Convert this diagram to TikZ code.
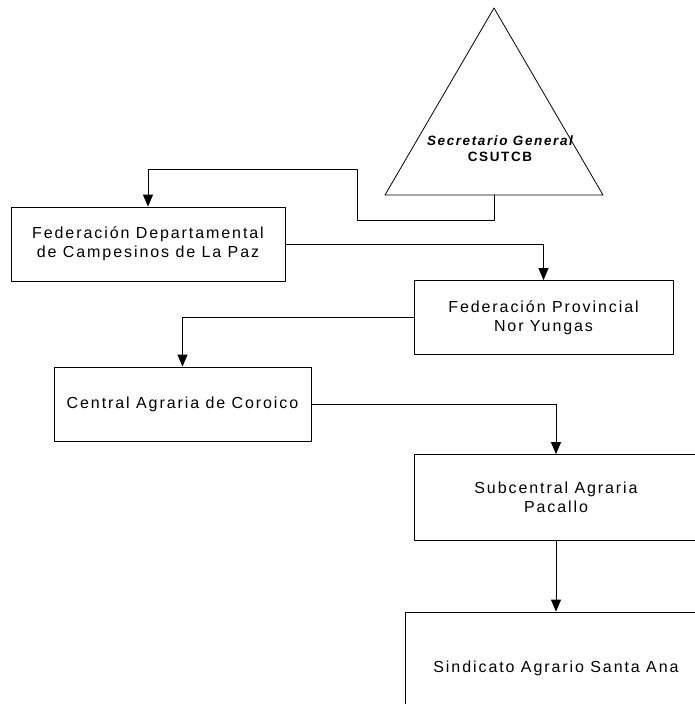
\documentclass[tikz,border=0pt]{standalone}
\usepackage{fontspec}
\setmainfont{Liberation Sans}[LetterSpace=12]
\usetikzlibrary{arrows.meta,positioning}

\begin{document}
\begin{tikzpicture}[line cap=round,line join=round,>={Triangle[length=12pt,width=10pt]},x=1pt,y=-1pt,
  box/.style={draw,line width=0.8pt,align=center,inner sep=0pt,font=\fontsize{16}{19}\selectfont},
  link/.style={->,line width=0.8pt}]
\useasboundingbox (0,0) rectangle (695,704);
\clip (0,0) rectangle (695,704);
\draw[line width=0.8pt] (494,8) -- (603,195) -- (385,195) -- cycle;
\node[align=center,inner sep=0pt,font=\fontsize{13.5}{16}\selectfont\bfseries] (sg) at (500,149) {\itshape Secretario General\\CSUTCB};
\coordinate (sgb) at (494,195);
\coordinate (k1) at (357,220);
\coordinate (k2) at (357,169);
\node[box,minimum width=274pt,minimum height=74pt] (fdep) at (148,244) {Federación Departamental\\de Campesinos de La Paz};
\node[box,minimum width=259pt,minimum height=74pt] (fprov) at (543.5,317.5) {Federación Provincial\\Nor Yungas};
\node[box,minimum width=257pt,minimum height=74pt] (cac) at (182.5,404) {Central Agraria de Coroico};
\node[box,minimum width=284pt,minimum height=86pt] (sub) at (556,497.5) {Subcentral Agraria\\Pacallo};
\node[box,minimum width=302pt,minimum height=112pt] (sin) at (556,668) {Sindicato Agrario Santa Ana};
\draw[link] (sgb) |- (k1) -- (k2) -| (fdep.north);
\draw[link] (fdep.east) -| (fprov.north);
\draw[link] (fprov.west) -| (cac.north);
\draw[link] (cac.east) -| (sub.north);
\draw[link] (sub.south) -- (sin.north);
\end{tikzpicture}
\end{document}
